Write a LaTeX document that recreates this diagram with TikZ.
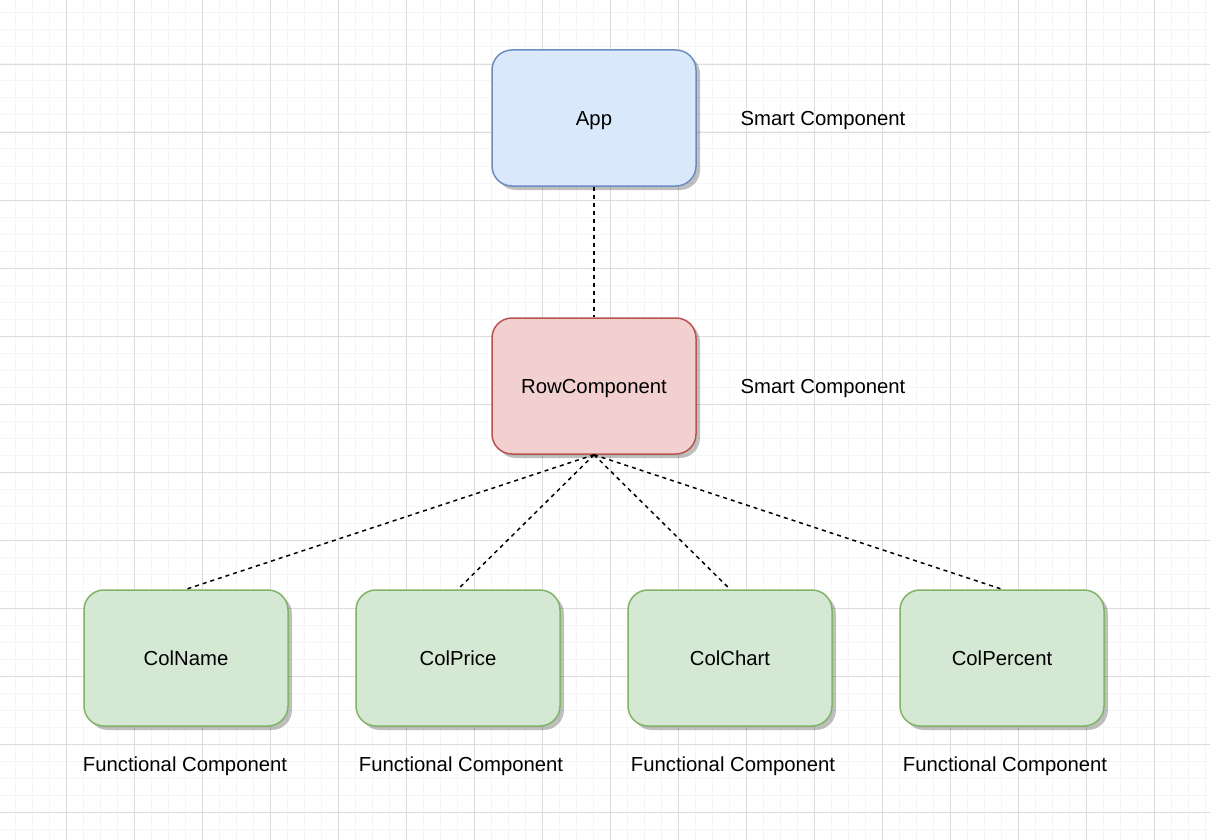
\documentclass[tikz,border=0pt]{standalone}
\usepackage{fontspec}
\setmainfont{Liberation Sans}
\usetikzlibrary{shadows}
\definecolor{bluefill}{HTML}{DAE8FC}
\definecolor{bluedraw}{HTML}{6C8EBF}
\definecolor{redfill}{HTML}{F2D0CF}
\definecolor{reddraw}{HTML}{B85450}
\definecolor{greenfill}{HTML}{D5E8D4}
\definecolor{greendraw}{HTML}{82B366}
\definecolor{minorgrid}{HTML}{F5F5F5}
\definecolor{majorgrid}{HTML}{DCDCDC}
\tikzset{
  comp/.style={rounded corners=20pt, minimum width=204pt, minimum height=136pt,
    line width=1.5pt, font=\fontsize{20.3}{24}\selectfont, inner sep=0pt,
    text height=14.4pt, text depth=0pt,
    drop shadow={shadow xshift=4pt, shadow yshift=-4pt, fill=black, opacity=0.25}},
  smart/.style={comp, fill=bluefill, draw=bluedraw},
  rowc/.style={comp, fill=redfill, draw=reddraw},
  func/.style={comp, fill=greenfill, draw=greendraw},
  lbl/.style={font=\fontsize{20.3}{24}\selectfont, inner sep=0pt,
    text height=14.4pt, text depth=0pt},
  link/.style={line width=1.5pt, dash pattern=on 4pt off 4pt}
}
\begin{document}
\begin{tikzpicture}[x=1pt,y=-1pt]
\useasboundingbox (0,0) rectangle (1210,840);
\fill[white] (0,0) rectangle (1210,840);
% grid
\foreach \i in {0,...,71} {
  \draw[minorgrid, line width=1pt] (15+17*\i,0) -- (15+17*\i,840);
}
\foreach \i in {0,...,49} {
  \draw[minorgrid, line width=1pt] (0,13+17*\i) -- (1210,13+17*\i);
}
\foreach \i in {0,...,17} {
  \draw[majorgrid, line width=0.8pt] (66+68*\i,0) -- (66+68*\i,840);
}
\foreach \i in {0,...,12} {
  \draw[majorgrid, line width=0.8pt] (0,64+68*\i) -- (1210,64+68*\i);
}
% nodes
\node[smart] (app) at (594,118) {App};
\node[rowc] (row) at (594,386) {RowComponent};
\node[func] (c1) at (186,658) {ColName};
\node[func] (c2) at (458,658) {ColPrice};
\node[func] (c3) at (730,658) {ColChart};
\node[func] (c4) at (1002,658) {ColPercent};
% labels
\node[lbl] (l1) at (823,118) {Smart Component};
\node[lbl] (l2) at (823,386) {Smart Component};
\node[lbl] (f1) at (185,764) {Functional Component};
\node[lbl] (f2) at (461,764) {Functional Component};
\node[lbl] (f3) at (733,764) {Functional Component};
\node[lbl] (f4) at (1005,764) {Functional Component};
% connectors
\draw[link] (app.south) -- (row.north);
\foreach \c in {c1,c2,c3,c4} {
  \draw[link] (row.south) -- (\c.north);
}
\end{tikzpicture}
\end{document}
